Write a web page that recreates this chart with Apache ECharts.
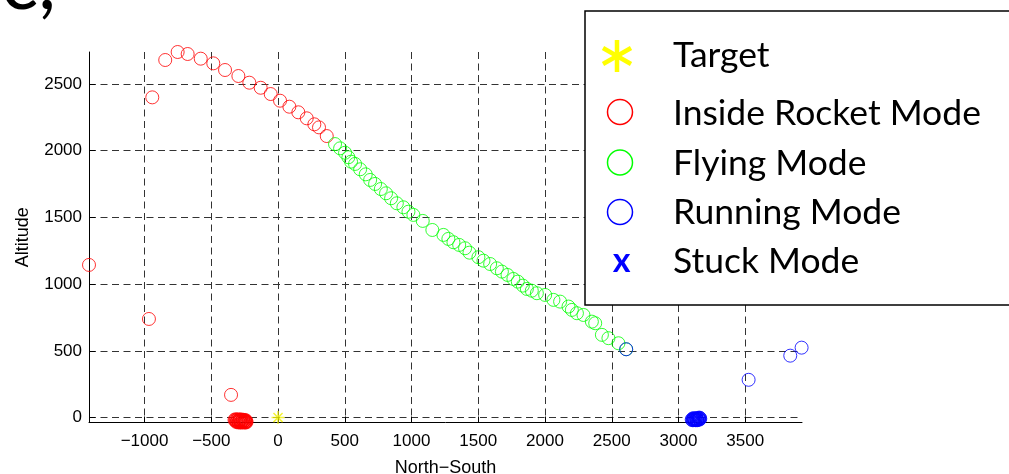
<!DOCTYPE html>
<html>
<head>
<meta charset="utf-8">
<script src="https://cdn.jsdelivr.net/npm/echarts@6/dist/echarts.min.js"></script>
<style>
  html, body { margin: 0; padding: 0; background: #fff; }
  #chart { width: 1009px; height: 474px; }
</style>
</head>
<body>
<div id="chart"></div>
<script>
// ---- data ----
const xTicks = [-1000, -500, 0, 500, 1000, 1500, 2000, 2500, 3000, 3500];
const yTicks = [0, 500, 1000, 1500, 2000, 2500];
const xName = 'North\u2212South';
const yName = 'Altitude';
const panelLabel = 'c,';
const legendNames = ['Target', 'Inside Rocket Mode', 'Flying Mode', 'Running Mode', 'Stuck Mode'];

const targetPts = [[0, 0]];

const rocketPts = [
  [-1416, 1144], [-967, 739], [-942, 2400], [-845, 2680], [-752, 2740], [-677, 2725],
  [-579, 2690], [-485, 2655], [-397, 2605], [-297, 2560], [-215, 2510], [-130, 2472],
  [-55, 2425], [15, 2375], [85, 2330], [152, 2288], [215, 2243], [272, 2198],
  [307, 2175], [365, 2110], [-352, 170],
  [-326, -18], [-320, -13], [-318, -25], [-312, -16], [-308, -29], [-303, -14],
  [-300, -22], [-296, -33], [-292, -17], [-288, -27], [-284, -21], [-281, -35],
  [-277, -15], [-274, -30], [-270, -24], [-267, -36], [-263, -19], [-260, -32],
  [-256, -26], [-253, -37], [-250, -22], [-247, -34], [-244, -28], [-241, -37],
  [-238, -25], [-236, -33], [-311, -34], [-295, -37], [-278, -37], [-262, -16],
  [-286, -14], [-245, -18]
];

const flyingPts = [
  [427, 2050], [465, 2018], [502, 1985], [527, 1951], [547, 1918], [577, 1901],
  [615, 1861], [657, 1823], [690, 1781], [727, 1751], [770, 1713], [809, 1681],
  [847, 1644], [890, 1606], [939, 1576], [977, 1543], [1014, 1519], [1084, 1474],
  [1156, 1406], [1239, 1369], [1276, 1339], [1314, 1314], [1357, 1294], [1401, 1269],
  [1434, 1236], [1501, 1202], [1539, 1176], [1589, 1151], [1639, 1119], [1677, 1094],
  [1719, 1069], [1763, 1039], [1796, 1019], [1834, 989], [1864, 964], [1901, 951],
  [1939, 932], [2001, 919], [2063, 882], [2113, 869], [2176, 832], [2201, 807],
  [2239, 782], [2288, 769], [2351, 719], [2376, 707], [2426, 620], [2475, 595],
  [2550, 557], [2608, 512]
];

const runningPts = [
  [2608, 512], [3525, 283], [3837, 464], [3922, 524],
  [3099, -16], [3104, -10], [3106, -20], [3110, -14], [3114, -19], [3118, -8],
  [3121, -17], [3125, -12], [3128, -20], [3132, -6], [3135, -15], [3139, -10],
  [3142, -18], [3146, -4], [3150, -12], [3153, -7], [3157, -15], [3160, -3],
  [3163, -9], [3112, -4], [3140, -20], [3155, 0]
];

const stuckPts = [[3110, -12], [3125, -15], [3138, -8], [3150, -10]];

// ---- chart ----
const FONT_AX = '"Liberation Sans", Arial, sans-serif';
const chart = echarts.init(document.getElementById('chart'), null, { renderer: 'canvas' });

function circleSeries(name, data, color) {
  return {
    name, type: 'scatter', data, symbol: 'circle', symbolSize: 13, clip: false,
    itemStyle: { color: 'rgba(0,0,0,0)', borderColor: color, borderWidth: 1 },
    emphasis: { disabled: true }, silent: true
  };
}

const legendRows = [55, 112.5, 162.5, 212, 261];
const graphics = [
  { type: 'text', z: 100, style: { text: panelLabel, x: 1, y: -16, font: '78px "Lato"', fill: '#000', verticalAlign: 'middle' } },
  { type: 'rect', z: 100, shape: { x: 585, y: 11, width: 500, height: 294 }, style: { fill: '#fff', stroke: '#000', lineWidth: 1.5 } },
  // asterisk (6 arms)
  { type: 'line', z: 101, shape: { x1: 617, y1: 40, x2: 617, y2: 72 }, style: { stroke: '#ffff00', lineWidth: 4.5 } },
  { type: 'line', z: 101, shape: { x1: 603, y1: 48, x2: 631, y2: 64 }, style: { stroke: '#ffff00', lineWidth: 4.5 } },
  { type: 'line', z: 101, shape: { x1: 603, y1: 64, x2: 631, y2: 48 }, style: { stroke: '#ffff00', lineWidth: 4.5 } },
  { type: 'circle', z: 101, shape: { cx: 620, cy: 112, r: 12.5 }, style: { fill: 'none', stroke: '#ff0000', lineWidth: 1.5 } },
  { type: 'circle', z: 101, shape: { cx: 620, cy: 162.5, r: 12.5 }, style: { fill: 'none', stroke: '#00ff00', lineWidth: 1.5 } },
  { type: 'circle', z: 101, shape: { cx: 620, cy: 212, r: 12.5 }, style: { fill: 'none', stroke: '#0000ff', lineWidth: 1.5 } },
  { type: 'text', z: 101, style: { text: 'x', x: 621.5, y: 261, font: 'bold 34px "Lato"', fill: '#0000ff', align: 'center', verticalAlign: 'middle' } }
];
legendNames.forEach((n, i) => {
  graphics.push({ type: 'text', z: 101, style: { text: n, x: 673, y: legendRows[i] + 1, font: '35.5px "Lato"', fill: '#000', verticalAlign: 'middle' } });
});

const axisCommon = {
  type: 'value',
  nameLocation: 'middle',
  nameMoveOverlap: false,
  nameTextStyle: { fontFamily: FONT_AX, fontSize: 18, color: '#000' },
  axisLine: { show: true, onZero: false, lineStyle: { color: '#000', width: 1 } },
  splitLine: { show: true, lineStyle: { color: '#333', width: 1, type: [7, 4.5] } }
};

chart.setOption({
  animation: false,
  backgroundColor: '#fff',
  grid: { left: 89, right: 207, top: 52, bottom: 51.5, containLabel: false, outerBoundsMode: 'none' },
  xAxis: Object.assign({}, axisCommon, {
    min: -1416, max: 3925, name: xName, nameGap: 36.5,
    axisTick: { show: true, inside: true, length: 6, customValues: xTicks, lineStyle: { color: '#000' } },
    axisLabel: { customValues: xTicks, fontFamily: FONT_AX, fontSize: 17, color: '#000', margin: 10,
      formatter: v => String(v).replace('-', '\u2212') }
  }),
  yAxis: Object.assign({}, axisCommon, {
    min: -37, max: 2740, name: yName, nameGap: 57, nameRotate: 90,
    axisTick: { show: true, inside: true, length: 6, customValues: yTicks, lineStyle: { color: '#000' } },
    axisLabel: { customValues: yTicks, fontFamily: FONT_AX, fontSize: 17, color: '#000', margin: 7,
      formatter: v => String(v) }
  }),
  series: [
    {
      name: legendNames[0], type: 'scatter', data: targetPts, clip: false,
      symbol: 'path://M0,-6L0,6M-6,0L6,0M-4.2,-4.2L4.2,4.2M-4.2,4.2L4.2,-4.2', symbolSize: 13,
      itemStyle: { color: 'rgba(0,0,0,0)', borderColor: '#f0f000', borderWidth: 1.5 }, z: 3
    },
    circleSeries(legendNames[1], rocketPts, '#ff0000'),
    circleSeries(legendNames[2], flyingPts, '#00ff00'),
    circleSeries(legendNames[3], runningPts, '#0000ff'),
    {
      name: legendNames[4], type: 'scatter', data: stuckPts, clip: false,
      symbol: 'path://M-5,-5L5,5M-5,5L5,-5', symbolSize: 9,
      itemStyle: { color: 'rgba(0,0,0,0)', borderColor: '#0000ff', borderWidth: 1.5 }
    }
  ],
  graphic: graphics
});
</script>
</body>
</html>
